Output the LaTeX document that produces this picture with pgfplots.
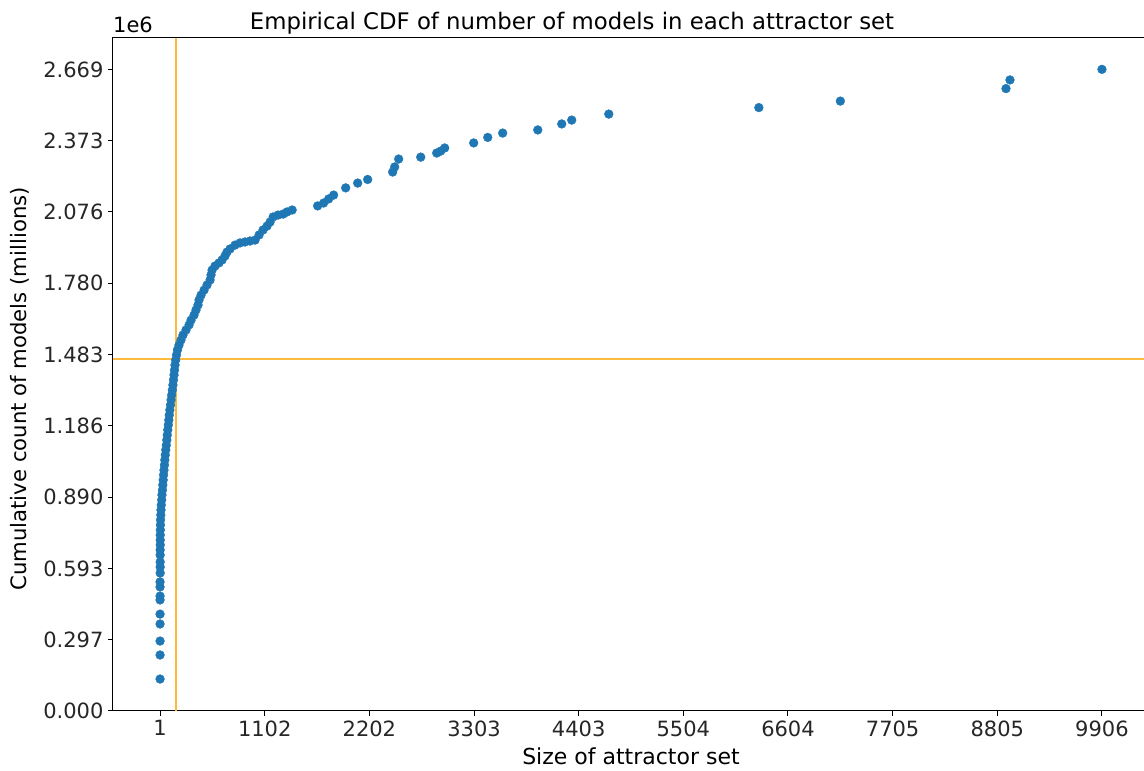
\documentclass[border=0pt]{standalone}
\usepackage{fontspec}
\setmainfont{DejaVu Sans}
\usepackage{pgfplots}
\usepackage{pgfplotstable}
\pgfplotsset{compat=1.18}
\definecolor{mplblue}{HTML}{1F77B4}
\definecolor{refline}{RGB}{255,186,60}
\pgfplotstableread{
x y
1 0.133
1 0.233
1 0.291
1 0.362
1 0.403
1 0.462
1 0.478
1 0.516
1 0.537
2 0.574
2 0.599
2 0.620
2 0.649
2 0.670
3 0.691
3 0.711
3 0.732
4 0.753
5 0.774
6 0.795
9 0.815
11 0.836
14 0.857
18 0.878
21 0.899
26 0.919
30 0.940
34 0.961
38 0.982
42 1.002
47 1.023
51 1.044
56 1.065
61 1.086
67 1.106
72 1.127
77 1.148
82 1.169
88 1.190
93 1.210
98 1.231
104 1.252
111 1.273
117 1.294
123 1.314
130 1.335
136 1.356
142 1.377
148 1.398
153 1.418
158 1.439
165 1.460
174 1.481
184 1.502
200 1.522
221 1.543
242 1.564
274 1.585
306 1.606
327 1.626
358 1.647
379 1.668
400 1.689
411 1.710
432 1.730
464 1.751
495 1.772
527 1.793
537 1.814
548 1.834
579 1.851
621 1.864
653 1.876
684 1.893
705 1.909
737 1.922
789 1.938
842 1.947
894 1.951
947 1.955
1000 1.959
1042 1.980
1084 2.001
1126 2.017
1158 2.034
1190 2.055
1242 2.063
1295 2.067
1337 2.076
1390 2.084
1658 2.101
1721 2.113
1774 2.130
1826 2.146
1953 2.176
2079 2.196
2184 2.211
2447 2.242
2468 2.263
2510 2.296
2742 2.304
2910 2.321
2952 2.329
2994 2.342
3299 2.363
3447 2.386
3604 2.404
3973 2.417
4225 2.442
4330 2.458
4720 2.483
6298 2.510
7155 2.537
8897 2.589
8939 2.625
9906 2.669
}\cdfdata
\begin{document}
\begin{tikzpicture}
\useasboundingbox (-113pt,-60pt) rectangle (1031pt,711pt);
\begin{axis}[
  scale only axis,
  width=1036pt, height=673pt,
  xmin=-494, xmax=10401, ymin=0, ymax=2.7995,
  scaled x ticks=false, scaled y ticks=false,
  xtick={1,1101.6,2202.1,3302.7,4403.2,5503.8,6604.3,7704.9,8805.4,9906},
  xticklabels={1,1102,2202,3303,4403,5504,6604,7705,8805,9906},
  ytick={0,0.29656,0.59311,0.88967,1.18622,1.48278,1.77933,2.07589,2.37244,2.669},
  yticklabels={0.000,0.297,0.593,0.890,1.186,1.483,1.780,2.076,2.373,2.669},
  tick align=outside,
  major tick length=5pt,
  tick style={black, line width=1pt},
  axis line style={black, line width=1pt},
  xtick pos=bottom, ytick pos=left,
  every tick label/.append style={font=\fontsize{21}{25}\selectfont, text=black!85},
  xticklabel style={yshift=-1pt},
  yticklabel style={xshift=-1pt},
  title={Empirical CDF of number of models in each attractor set},
  title style={at={(axis description cs:0.4431,1.003)}, anchor=base, font=\fontsize{22.8}{27}\selectfont},
  xlabel={Size of attractor set},
  xlabel style={at={(axis description cs:0.5,-0.0788)}, anchor=base, font=\fontsize{22}{26}\selectfont},
  ylabel={Cumulative count of models (millions)},
  every axis y label/.style={at={(axis description cs:-0.0898,0.4785)}, rotate=90, anchor=center, font=\fontsize{21.2}{25}\selectfont},
  clip=true,
]
\addplot[only marks, mark=*, mark size=4.4pt, mplblue, mark options={draw=mplblue, fill=mplblue}] table[x=x, y=y] {\cdfdata};
\addplot[refline, line width=2pt] coordinates {(170,0) (170,2.7995)};
\addplot[refline, line width=2pt] coordinates {(-494,1.466) (10401,1.466)};
\end{axis}
\node[anchor=base west, font=\fontsize{21}{25}\selectfont, inner sep=0pt] at ([yshift=5pt]current axis.north west) {1e6};
\end{tikzpicture}
\end{document}
